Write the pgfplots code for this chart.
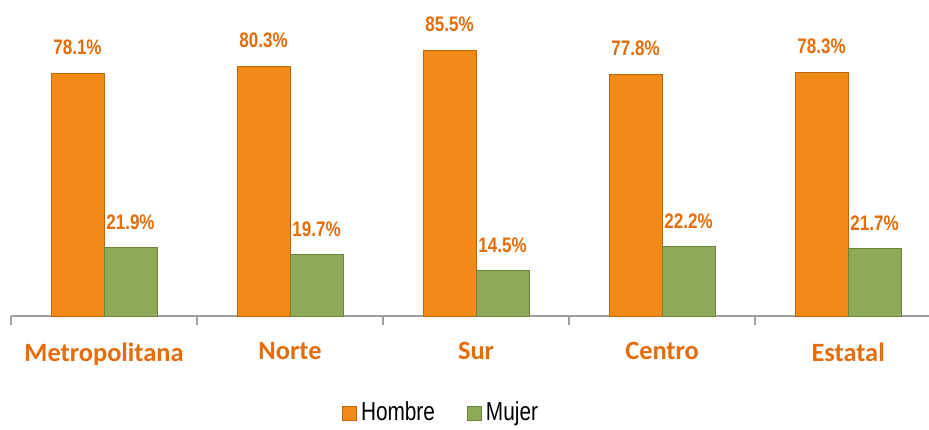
\documentclass[border=0pt]{standalone}
\usepackage{pgfplots}
\pgfplotsset{compat=1.18}
\usepackage{fontspec}
\setmainfont{Liberation Sans}
\newfontfamily\narrowfont[FakeStretch=0.81]{Liberation Sans}
\newfontfamily\legfont[FakeStretch=0.8]{Liberation Sans}
\newfontfamily\catfont{Carlito}
\definecolor{barorange}{HTML}{F28A1A}
\definecolor{bordorange}{HTML}{C0650A}
\definecolor{bargreen}{HTML}{8FA958}
\definecolor{bordgreen}{HTML}{6A853A}
\definecolor{txtorange}{HTML}{E46C0A}
\definecolor{axgray}{HTML}{A0A0A0}
\begin{document}
\begin{tikzpicture}
\begin{axis}[
  scale only axis,
  width=459pt, height=158pt,
  xmin=-0.5, xmax=4.435,
  ymin=0, ymax=101.6,
  ybar=0pt, bar width=26.5pt,
  axis x line*=bottom,
  axis y line=none,
  x axis line style={axgray, line width=1.2pt, -},
  xtick={0,1,2,3,4},
  xticklabels={Metropolitana,Norte,Sur,Centro,Estatal},
  major x tick style={draw=none},
  minor xtick={-0.5,0.5,1.5,2.5,3.5},
  minor x tick style={axgray, line width=1.2pt},
  minor tick length=4.5pt,
  tick align=outside,
  xticklabel style={font=\catfont\bfseries\fontsize{13.2}{15}\selectfont, text=txtorange, yshift=-5.5pt},
  /pgf/number format/assume math mode=true,
  nodes near coords={\pgfmathprintnumber[fixed,precision=1,fixed zerofill]{\pgfplotspointmeta}\%},
  every node near coord/.append style={font=\narrowfont\bfseries\fontsize{10.5}{12}\selectfont, text=txtorange, anchor=base, yshift=9.25pt, inner sep=0pt},
  legend style={at={(0.4695,-0.307)}, anchor=center, draw=none, legend columns=2, font=\legfont\fontsize{13}{15}\selectfont, /tikz/every even column/.append style={column sep=14pt}},
  legend image code/.code={\draw[#1] (0pt,-3.5pt) rectangle (7pt,3.5pt);},
  clip=false,
]
\addplot[fill=barorange, draw=bordorange, line width=0.5pt] coordinates {(0,78.1) (1,80.3) (2,85.5) (3,77.8) (4,78.3)};
\addplot[fill=bargreen, draw=bordgreen, line width=0.5pt] coordinates {(0,21.9) (1,19.7) (2,14.5) (3,22.2) (4,21.7)};
\legend{Hombre,Mujer}
\end{axis}
\pgfresetboundingbox
\useasboundingbox (current axis.south west) ++(-5.5pt,-56.5pt) rectangle ++(464.5pt,214.5pt);
\end{tikzpicture}
\end{document}
